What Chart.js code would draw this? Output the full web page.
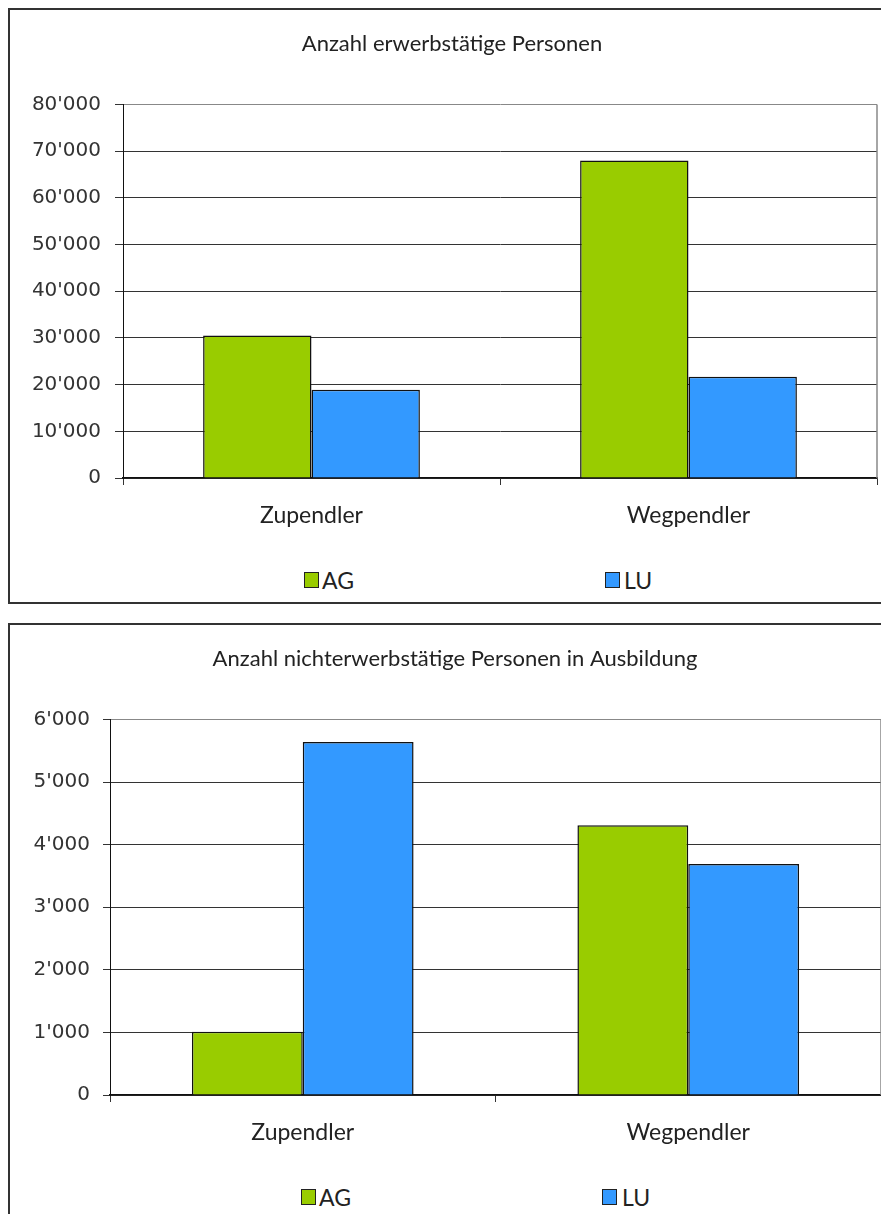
<!DOCTYPE html>
<html>
<head>
<meta charset="utf-8">
<script src="https://cdn.jsdelivr.net/npm/chart.js@4.4.1/dist/chart.umd.min.js"></script>
<style>
  html, body { margin: 0; padding: 0; background: #fff; overflow: hidden; }
  body { width: 881px; height: 1214px; position: relative; }
  .frame { position: absolute; left: 8px; width: 900px; border: 2px solid #333; box-sizing: border-box; }
  #frame1 { top: 8px; height: 596px; }
  #frame2 { top: 623px; height: 700px; }
  canvas { position: absolute; left: 10px; }
  #c1 { top: 11px; }
  #c2 { top: 626px; }
  .lg-box { position: absolute; width: 15px; height: 16px; box-sizing: border-box; border: 1.5px solid #222; }
  .lg-txt { position: absolute; font-family: 'Lato', sans-serif; font-size: 23px; color: #222; line-height: 26px; }
</style>
</head>
<body>
<div class="frame" id="frame1"></div>
<div class="frame" id="frame2"></div>
<canvas id="c1" width="884" height="527"></canvas>
<canvas id="c2" width="890" height="529"></canvas>

<div class="lg-box" style="left:304px;top:572px;background:#99CC00"></div>
<div class="lg-txt" style="left:322px;top:567px">AG</div>
<div class="lg-box" style="left:605px;top:572px;background:#3399FF"></div>
<div class="lg-txt" style="left:624px;top:567px">LU</div>

<div class="lg-box" style="left:301px;top:1189px;background:#99CC00"></div>
<div class="lg-txt" style="left:319px;top:1184px">AG</div>
<div class="lg-box" style="left:602px;top:1189px;background:#3399FF"></div>
<div class="lg-txt" style="left:622px;top:1184px">LU</div>

<script>
// data
const categories = ['Zupendler', 'Wegpendler'];
const seriesNames = ['AG', 'LU'];
const agWorking = [30500, 68000];
const luWorking = [18900, 21700];
const agTraining = [1010, 4310];
const luTraining = [5640, 3690];
const workingAxis = { max: 80000, step: 10000 };
const trainingAxis = { max: 6000, step: 1000 };

const GREEN = '#99CC00';
const BLUE = '#3399FF';

// 80000 -> 80'000
function swissNumber(v) {
    return String(v).replace(/\B(?=(\d{3})+(?!\d))/g, "'");
}

// gray right edge of the plot area, like the Excel frame
const plotEdge = {
    id: 'plotEdge',
    beforeDatasetsDraw(chart) {
        const a = chart.chartArea;
        const ctx = chart.ctx;
        ctx.save();
        ctx.strokeStyle = '#888';
        ctx.lineWidth = 1.5;
        ctx.beginPath();
        ctx.moveTo(a.right, a.top);
        ctx.lineTo(a.right, a.bottom);
        ctx.stroke();
        ctx.restore();
    }
};

function makeChart(canvas, title, agData, luData, axis, yWidth, tickLen, tickPad, rightGap) {
    return new Chart(canvas, {
        type: 'bar',
        data: {
            labels: categories,
            datasets: [
                { label: seriesNames[0], data: agData, backgroundColor: GREEN, borderColor: '#111', borderWidth: 1.5 },
                { label: seriesNames[1], data: luData, backgroundColor: BLUE, borderColor: '#111', borderWidth: 1.5 }
            ]
        },
        options: {
            responsive: false,
            animation: false,
            devicePixelRatio: 1,
            layout: { padding: 0 },
            datasets: { bar: { categoryPercentage: 0.575, barPercentage: 1 } },
            plugins: {
                legend: { display: false },
                tooltip: { enabled: false },
                title: {
                    display: true,
                    text: title,
                    color: '#222',
                    font: { family: "'Lato', sans-serif", size: 22, weight: 'normal' },
                    padding: { top: 20, bottom: 47 }
                }
            },
            scales: {
                x: {
                    afterFit: s => { s.height = 60; },
                    grid: { drawOnChartArea: false, offset: true, tickLength: 7, color: '#333' },
                    border: { color: '#111', width: 1.5 },
                    ticks: { color: '#222', padding: 17, font: { family: "'Lato', sans-serif", size: 23 } }
                },
                y: {
                    min: 0,
                    max: axis.max,
                    afterFit: s => { s.width = yWidth; },
                    grid: {
                        color: c => c.tick && c.tick.value === axis.max ? '#888' : '#333',
                        tickColor: '#333',
                        tickLength: tickLen,
                        lineWidth: 1
                    },
                    border: { color: '#111', width: 1 },
                    ticks: {
                        stepSize: axis.step,
                        padding: tickPad,
                        color: '#333',
                        font: { family: "'DejaVu Sans', sans-serif", size: 20 },
                        callback: v => swissNumber(v)
                    }
                },
                // empty spacer on the right so the title stays centred on the whole frame
                spacer: {
                    position: 'right',
                    afterFit: s => { s.width = rightGap; },
                    grid: { display: false },
                    border: { display: false },
                    ticks: { display: false }
                }
            }
        },
        plugins: [plotEdge]
    });
}

makeChart(document.getElementById('c1'), 'Anzahl erwerbstätige Personen',
    agWorking, luWorking, workingAxis, 113, 8, 14, 17);
makeChart(document.getElementById('c2'), 'Anzahl nichterwerbstätige Personen in Ausbildung',
    agTraining, luTraining, trainingAxis, 100, 7, 13, 19);
</script>
</body>
</html>
